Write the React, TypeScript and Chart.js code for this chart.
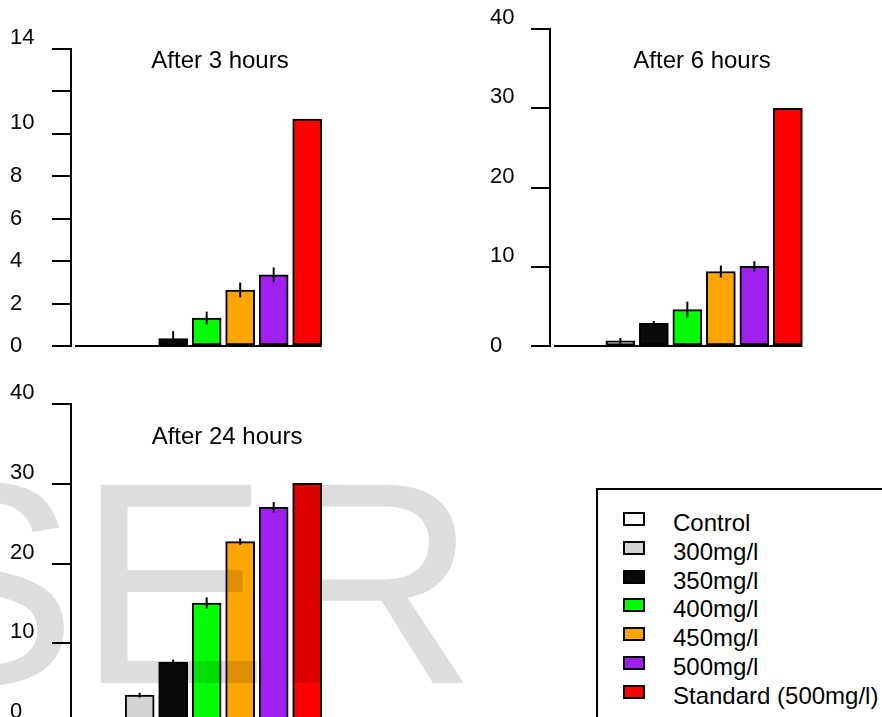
import React, { useEffect, useRef } from 'react';
import { Chart, registerables } from 'chart.js';

Chart.register(...registerables);

const FONT = '"Liberation Sans", Arial, Helvetica, sans-serif';

// ---- data ----
const CATEGORIES = ['Control', '300mg/l', '350mg/l', '400mg/l', '450mg/l', '500mg/l', 'Standard (500mg/l)'];
const COLORS = ['#ffffff', '#d3d3d3', '#0a0a0a', '#00ff00', '#ffa500', '#a020f0', '#ff0000'];

const TITLE_3H = 'After 3 hours';
const VALUES_3H = [0, 0, 0.35, 1.32, 2.64, 3.35, 10.7];
const ERRORS_3H = [0, 0, 0.35, 0.3, 0.35, 0.35, 0];
const TICKS_3H = ['0', '2', '4', '6', '8', '10', '', '14'];

const TITLE_6H = 'After 6 hours';
const VALUES_6H = [0, 0.65, 2.85, 4.6, 9.4, 10.05, 30.0];
const ERRORS_6H = [0, 0.35, 0.3, 1.0, 0.75, 0.65, 0];
const TICKS_6H = ['0', '10', '20', '30', '40'];

const TITLE_24H = 'After 24 hours';
const VALUES_24H = [0, 3.5, 7.65, 15.05, 22.75, 27.05, 30.05];
const ERRORS_24H = [0, 0.3, 0.3, 0.7, 0.4, 0.65, 0];
const TICKS_24H = ['0', '10', '20', '30', '40'];

const WATERMARK = 'SER';

type PanelProps = {
  left: number; top: number; width: number; height: number;
  padding: { left: number; right: number; top: number; bottom: number };
  axisWidth: number;
  xMin: number; xMax: number;
  yMax: number; step: number;
  values: number[]; errors: number[]; ticks: string[];
  raised: string[];
  title: string; titleX: number; titleY: number;
  watermark?: boolean;
};

function Panel(p: PanelProps) {
  const ref = useRef<HTMLCanvasElement>(null);
  useEffect(() => {
    if (!ref.current) return;
    const extras = {
      id: 'extras',
      afterDatasetsDraw(chart: any) {
        const ctx = chart.ctx;
        const ys = chart.scales.y;
        const meta = chart.getDatasetMeta(0);
        ctx.save();
        ctx.strokeStyle = '#000';
        ctx.lineWidth = 2;
        const y0 = ys.getPixelForValue(0);
        const last = meta.data[meta.data.length - 1];
        ctx.beginPath();
        ctx.moveTo(chart.chartArea.left + 4, y0);
        ctx.lineTo(last.x + last.width / 2, y0);
        ctx.stroke();
        p.values.forEach((v, i) => {
          const e = p.errors[i];
          if (!e) return;
          const x = meta.data[i].x;
          ctx.beginPath();
          ctx.moveTo(x, ys.getPixelForValue(v + e));
          ctx.lineTo(x, ys.getPixelForValue(Math.max(0, v - e)));
          ctx.stroke();
        });
        ctx.fillStyle = '#000';
        ctx.font = '24px ' + FONT;
        ctx.textAlign = 'center';
        ctx.textBaseline = 'middle';
        ctx.fillText(p.title, p.titleX - p.left, p.titleY - p.top);
        ctx.restore();
      },
      afterDraw(chart: any) {
        if (!p.watermark) return;
        const ctx = chart.ctx;
        ctx.save();
        ctx.globalCompositeOperation = 'multiply';
        ctx.fillStyle = '#dddddd';
        ctx.font = '288px ' + FONT;
        ctx.textAlign = 'left';
        ctx.textBaseline = 'alphabetic';
        ctx.fillText(WATERMARK, -115 - p.left, 683 - p.top);
        ctx.restore();
      },
    };
    const chart = new Chart(ref.current, {
      type: 'bar',
      data: {
        datasets: [
          {
            data: p.values.map((v, i) => ({ x: i, y: v })) as any,
            backgroundColor: COLORS,
            borderColor: '#000',
            borderWidth: 2,
            borderSkipped: false,
            barThickness: 29,
          },
        ],
      },
      options: {
        animation: false,
        responsive: false,
        events: [],
        layout: { padding: p.padding },
        plugins: { legend: { display: false }, tooltip: { enabled: false }, title: { display: false } },
        scales: {
          x: { type: 'linear', min: p.xMin, max: p.xMax, display: false, offset: false, grid: { offset: false } },
          y: {
            min: 0,
            max: p.yMax,
            border: { display: true, color: '#000', width: 2 },
            grid: { display: true, drawOnChartArea: false, drawTicks: true, tickLength: 19, tickWidth: 2, tickColor: '#000', lineWidth: 2, color: '#000' },
            ticks: {
              stepSize: p.step,
              autoSkip: false,
              color: '#000',
              font: { family: FONT, size: 22, lineHeight: 1 },
              crossAlign: 'far',
              padding: 0,
              callback: (_v: any, i: number) => {
                const t = p.ticks[i];
                // labels drawn half a line above their tick, as in the original figure
                return p.raised.includes(t) ? [t, ''] : t;
              },
            },
            afterFit: (s: any) => { s.width = p.axisWidth; },
          },
        },
      } as any,
      plugins: [extras],
    });
    return () => chart.destroy();
  }, []);
  return (
    <canvas
      ref={ref}
      width={p.width}
      height={p.height}
      style={{ position: 'absolute', left: p.left, top: p.top, width: p.width, height: p.height }}
    />
  );
}

function Legend() {
  return (
    <div
      style={{
        position: 'absolute', left: 596, top: 488, width: 300, height: 250,
        border: '2px solid #000', boxSizing: 'border-box', background: '#fff',
        fontFamily: FONT, fontSize: 24, color: '#000',
      }}
    >
      {CATEGORIES.map((c, i) => (
        <React.Fragment key={c}>
          <div
            style={{
              position: 'absolute', left: 25, top: 22 + i * 28.8, width: 22, height: 14,
              border: '2px solid #000', boxSizing: 'border-box', background: COLORS[i],
            }}
          />
          <div style={{ position: 'absolute', left: 75, top: 19 + i * 28.8, lineHeight: '28px', whiteSpace: 'nowrap' }}>{c}</div>
        </React.Fragment>
      ))}
    </div>
  );
}

export default function App() {
  return (
    <div style={{ position: 'absolute', left: 0, top: 0, width: 882, height: 717, overflow: 'hidden', background: '#fff' }}>
      <Panel
        left={0} top={0} width={340} height={360}
        padding={{ left: 10, right: 14.4, top: 49, bottom: 14 }}
        axisWidth={61} xMin={-1.05} xMax={6.55} yMax={14} step={2}
        values={VALUES_3H} errors={ERRORS_3H} ticks={TICKS_3H} raised={['10', '14']}
        title={TITLE_3H} titleX={220} titleY={61}
      />
      <Panel
        left={480} top={0} width={340} height={360}
        padding={{ left: 10, right: 15.4, top: 29, bottom: 14 }}
        axisWidth={60} xMin={-1.1} xMax={6.5} yMax={40} step={10}
        values={VALUES_6H} errors={ERRORS_6H} ticks={TICKS_6H} raised={['10', '20', '30', '40']}
        title={TITLE_6H} titleX={702} titleY={61}
      />
      <Panel
        left={0} top={380} width={590} height={380}
        padding={{ left: 10, right: 264.4, top: 24, bottom: 37 }}
        axisWidth={61} xMin={-1.05} xMax={6.55} yMax={40} step={10}
        values={VALUES_24H} errors={ERRORS_24H} ticks={TICKS_24H} raised={['0', '10', '20', '30', '40']}
        title={TITLE_24H} titleX={227} titleY={437}
        watermark
      />
      <Legend />
    </div>
  );
}
